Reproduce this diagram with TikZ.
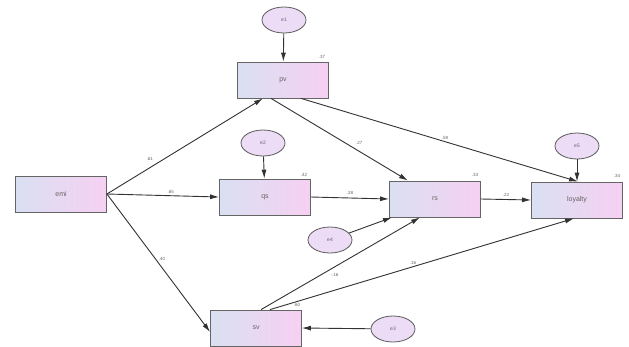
\documentclass[tikz,border=0pt]{standalone}
\usepackage{fontspec}
\setmainfont{Liberation Sans}
\usetikzlibrary{shapes.geometric,arrows.meta,positioning}
\definecolor{boxL}{RGB}{218,224,242}
\definecolor{boxR}{RGB}{246,208,242}
\definecolor{ellF}{RGB}{236,220,246}
\definecolor{ln}{RGB}{50,50,50}
\tikzset{
  var/.style={draw=ln!75, line width=0.8pt, minimum width=91pt, minimum height=36pt, left color=boxL, right color=boxR, inner sep=0pt, font=\scriptsize, text=ln!75},
  err/.style={ellipse, draw=ln!80, line width=0.8pt, fill=ellF, minimum width=44pt, minimum height=26pt, inner sep=0pt, font=\tiny, text=ln!75},
  path/.style={draw=ln, line width=0.9pt, -{Latex[length=9pt,width=5pt]}},
  lab/.style={font=\fontsize{4.5}{5}\selectfont, text=ln!75, inner sep=0pt}
}
\begin{document}
\begin{tikzpicture}[x=1pt,y=-1pt]
\useasboundingbox (0,0) rectangle (629,346);
% nodes
\node[var] (emi) at (61,194) {emi};
\node[var] (pv) at (283,80) {pv};
\node[var] (qs) at (265,197) {qs};
\node[var] (rs) at (435,199) {rs};
\node[var] (loy) at (577,200) {loyalty};
\node[var] (sv) at (256,328) {sv};
\node[err] (e1) at (284,20) {e1};
\node[err] (e2) at (263,143) {e2};
\node[err] (e5) at (577,146) {e5};
\node[err] (e4) at (330,240) {e4};
\node[err] (e3) at (393,329) {e3};
% anchor coordinates
\coordinate (emiR) at (emi.east);
\coordinate (pvB1) at ([xshift=-20pt]pv.south);
\coordinate (pvB2) at ([xshift=-12pt]pv.south);
\coordinate (pvB3) at ([xshift=18pt]pv.south);
\coordinate (rsT) at ([xshift=-27pt]rs.north);
\coordinate (rsB1) at ([xshift=-43pt]rs.south);
\coordinate (rsB2) at ([xshift=-15pt]rs.south);
\coordinate (loyT) at ([xshift=1pt]loy.north);
\coordinate (loyB) at ([xshift=-3pt]loy.south);
\coordinate (svT1) at ([xshift=5pt]sv.north);
\coordinate (svT2) at ([xshift=14pt]sv.north);
\coordinate (svL) at ([yshift=-4pt]sv.west);
% paths
\draw[path] (e1) -- (pv);
\draw[path] (e2) -- (qs);
\draw[path] (e5) -- (loy);
\draw[path] (e3) -- (sv.east);
\draw[path] (e4) -- (rsB1);
\draw[path] (emiR) -- node[lab, pos=0.3, xshift=-4pt, yshift=6pt] {.61} (pvB1);
\draw[path] (emiR) -- node[lab, above=2pt, pos=0.57] {.65} (qs.west);
\draw[path] (emiR) -- node[lab, right=3pt, pos=0.47] {.40} (svL);
\draw[path] (pvB2) -- node[lab, pos=0.6, xshift=6pt, yshift=5pt] {.27} (rsT);
\draw[path] (pvB3) -- node[lab, above=2pt, pos=0.52] {.58} (loyT);
\draw[path] (qs.east) -- node[lab, above=3pt] {.28} (rs.west);
\draw[path] (rs.east) -- node[lab, above=3pt] {.22} (loy.west);
\draw[path] (svT1) -- node[lab, pos=0.45, xshift=2pt, yshift=-7pt] {-.16} (rsB2);
\draw[path] (svT2) -- node[lab, above=2pt, pos=0.47] {.16} (loyB);
% squared multiple correlations
\node[lab] (r1) at (322,57) {.37};
\node[lab] (r2) at (304,175) {.42};
\node[lab] (r3) at (475,175) {.33};
\node[lab] (r4) at (617,176) {.34};
\node[lab] (r5) at (297,305) {.60};
\end{tikzpicture}
\end{document}
